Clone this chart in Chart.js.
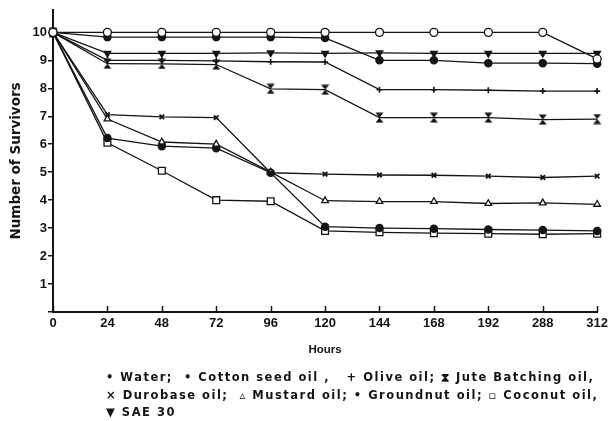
<!DOCTYPE html>
<html>
<head>
<meta charset="utf-8">
<script src="https://cdn.jsdelivr.net/npm/chart.js@4.4.0/dist/chart.umd.min.js"></script>
<style>
  html, body { margin: 0; padding: 0; background: #fff; }
  #wrap { position: relative; width: 612px; height: 421px; overflow: hidden; background: #fff; }
  #c { position: absolute; left: 0; top: 0; }
  #key {
    position: absolute; left: 106px; top: 369px;
    font: bold 11.5px "DejaVu Sans", sans-serif; letter-spacing: 1.5px;
    line-height: 17.5px; color: #141414; white-space: pre;
  }
</style>
</head>
<body>
<div id="wrap">
  <canvas id="c" width="612" height="421"></canvas>
  <div id="key">• Water;  • Cotton seed oil ,   + Olive oil; ⧗ Jute Batching oil,
× Durobase oil;  ▵ Mustard oil; • Groundnut oil; ▫ Coconut oil,
▼ SAE 30</div>
</div>
<script>
// Exposure time (hours) on the category axis
const hours = ['0', '24', '48', '72', '96', '120', '144', '168', '192', '288', '312'];
// Survivor tick values on the y axis (0 is left unlabelled; the x axis shows it)
const survivorTicks = [0, 1, 2, 3, 4, 5, 6, 7, 8, 9, 10];

// Number of survivors out of 10 for each treatment
const water       = [10, 10,   10,   10,   10,   10,   10,   10,   10,   10,   9.05];
const cottonSeed  = [10, 9.83, 9.83, 9.83, 9.83, 9.8,  9.0,  9.0,  8.9,  8.9,  8.88];
const sae30       = [10, 9.25, 9.25, 9.25, 9.27, 9.25, 9.27, 9.25, 9.25, 9.25, 9.25];
const olive       = [10, 9.0,  9.0,  8.98, 8.95, 8.94, 7.95, 7.95, 7.93, 7.9,  7.9];
const jute        = [10, 8.88, 8.87, 8.85, 7.98, 7.95, 6.95, 6.95, 6.95, 6.88, 6.9];
const durobase    = [10, 7.06, 6.98, 6.95, 4.98, 4.93, 4.9,  4.89, 4.86, 4.81, 4.86];
const mustard     = [10, 6.9,  6.08, 6.0,  5.0,  3.98, 3.95, 3.95, 3.88, 3.9,  3.85];
const groundnut   = [10, 6.22, 5.93, 5.86, 4.98, 3.05, 3.0,  2.98, 2.95, 2.93, 2.9];
const coconut     = [10, 6.05, 5.05, 4.0,  3.96, 2.9,  2.85, 2.82, 2.8,  2.78, 2.8];

const INK = '#141414';

// Hourglass marker used for the jute batching oil series
function hourglassMarker() {
  const c = document.createElement('canvas');
  c.width = 9; c.height = 11;
  const g = c.getContext('2d');
  g.fillStyle = INK;
  g.beginPath();
  g.moveTo(0.5, 0.5); g.lineTo(8.5, 0.5); g.lineTo(4.5, 5.5);
  g.lineTo(8.5, 10.5); g.lineTo(0.5, 10.5); g.lineTo(4.5, 5.5);
  g.closePath(); g.fill();
  return c;
}

function series(label, data, style, extra) {
  return Object.assign({
    label, data,
    borderColor: INK, borderWidth: 1.3, tension: 0, fill: false,
    pointStyle: style, pointRadius: 4,
    pointBorderColor: INK, pointBackgroundColor: INK, pointBorderWidth: 1.3
  }, extra || {});
}

const datasets = [
  series('Water', water, 'circle', { pointBackgroundColor: '#fff', pointRadius: 4 }),
  series('Cotton seed oil', cottonSeed, 'circle', { pointRadius: 3.6 }),
  series('SAE 30', sae30, 'triangle', { pointRotation: 180, pointRadius: 3.8 }),
  series('Olive oil', olive, 'cross', { pointRadius: 3, pointBorderWidth: 1.6 }),
  series('Jute Batching oil', jute, hourglassMarker()),
  series('Durobase oil', durobase, 'crossRot', { pointRadius: 3.2, pointBorderWidth: 1.8 }),
  series('Mustard oil', mustard, 'triangle', { pointBackgroundColor: '#fff', pointRadius: 3.8 }),
  series('Groundnut oil', groundnut, 'circle', { pointRadius: 3.6 }),
  series('Coconut oil', coconut, 'rect', { pointBackgroundColor: '#fff', pointRadius: 4.8 })
];

// Short tick marks that point up into the plot from the x axis
const innerXTicks = {
  id: 'innerXTicks',
  afterDraw(chart) {
    const xs = chart.scales.x;
    const bottom = chart.chartArea.bottom;
    const ctx = chart.ctx;
    ctx.save();
    ctx.strokeStyle = INK;
    ctx.lineWidth = 1.5;
    for (let i = 0; i < xs.ticks.length; i++) {
      const px = Math.round(xs.getPixelForTick(i)) + 0.5;
      ctx.beginPath();
      ctx.moveTo(px, bottom);
      ctx.lineTo(px, bottom - 6);
      ctx.stroke();
    }
    ctx.restore();
  }
};

const tickFont = { family: '"Liberation Sans", Arial, sans-serif', size: 13, weight: 'bold' };

new Chart(document.getElementById('c'), {
  type: 'line',
  data: { labels: hours, datasets },
  plugins: [innerXTicks],
  options: {
    responsive: false,
    animation: false,
    devicePixelRatio: 1,
    layout: { padding: { left: 4, right: 12, top: 10, bottom: 56 } },
    plugins: { legend: { display: false }, tooltip: { enabled: false } },
    scales: {
      x: {
        type: 'category',
        offset: false,
        grid: { display: true, drawOnChartArea: false, drawTicks: false },
        border: { display: true, width: 2, color: INK },
        ticks: { font: tickFont, color: INK, padding: 4, maxRotation: 0, autoSkip: false },
        title: {
          display: true, text: 'Hours', color: INK,
          font: { family: '"Liberation Sans", Arial, sans-serif', size: 11.5, weight: 'bold' },
          padding: { top: 0, bottom: 8 }
        },
        afterFit(s) { s.height = 53; }
      },
      y: {
        min: 0, max: 10.8,
        afterBuildTicks(s) { s.ticks = survivorTicks.map(v => ({ value: v })); },
        grid: { display: true, drawOnChartArea: false, drawTicks: true, tickLength: 5, color: INK, lineWidth: 1.5 },
        border: { display: true, width: 2, color: INK },
        ticks: {
          font: tickFont, color: INK, padding: 1,
          callback: v => (v === 0 ? '' : String(v))
        },
        title: {
          display: true, text: 'Number of Survivors', color: INK,
          font: { family: '"DejaVu Sans", sans-serif', size: 13.5, weight: 'bold' },
          padding: { top: 4, bottom: 0 }
        },
        afterFit(s) { s.width = 49; }
      }
    }
  }
});
</script>
</body>
</html>
